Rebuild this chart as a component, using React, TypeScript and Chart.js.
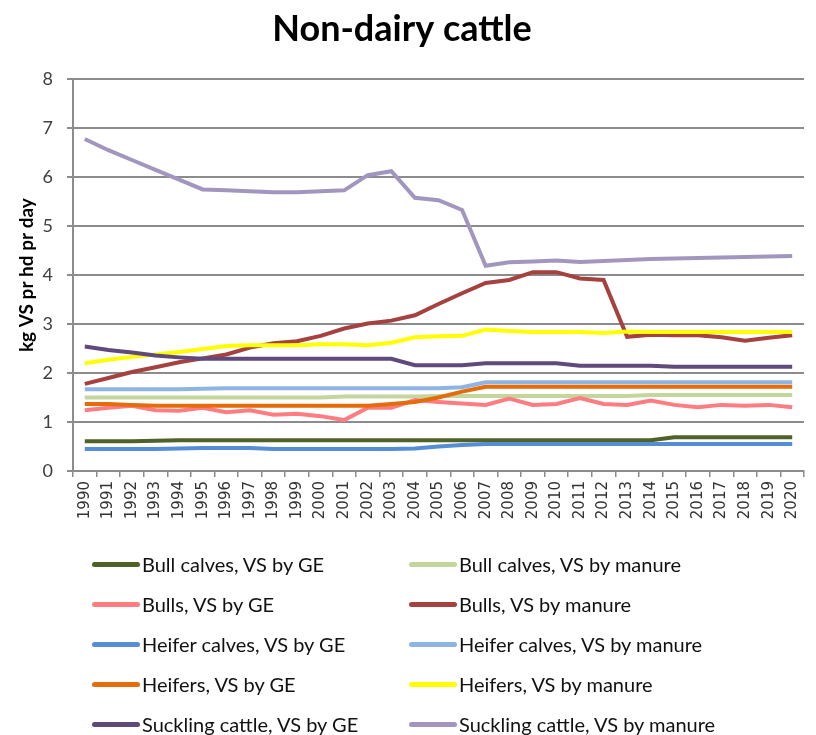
import React, { useEffect, useRef } from "react";
import { Chart, registerables } from "chart.js";

Chart.register(...registerables);

const years = [
  "1990","1991","1992","1993","1994","1995","1996","1997","1998","1999",
  "2000","2001","2002","2003","2004","2005","2006","2007","2008","2009",
  "2010","2011","2012","2013","2014","2015","2016","2017","2018","2019","2020",
];

const bullCalvesGE = [0.61,0.61,0.61,0.62,0.63,0.63,0.63,0.63,0.63,0.63,0.63,0.63,0.63,0.63,0.63,0.63,0.63,0.63,0.63,0.63,0.63,0.63,0.63,0.63,0.63,0.69,0.69,0.69,0.69,0.69,0.69];
const bullCalvesManure = [1.5,1.5,1.5,1.5,1.5,1.5,1.5,1.5,1.5,1.5,1.5,1.52,1.52,1.52,1.52,1.53,1.53,1.53,1.53,1.53,1.53,1.53,1.53,1.53,1.55,1.55,1.55,1.55,1.55,1.55,1.55];
const bullsGE = [1.24,1.29,1.33,1.24,1.23,1.29,1.2,1.24,1.15,1.17,1.12,1.04,1.29,1.29,1.45,1.41,1.38,1.35,1.48,1.35,1.37,1.49,1.37,1.35,1.44,1.35,1.3,1.35,1.33,1.35,1.3];
const bullsManure = [1.78,1.9,2.02,2.12,2.22,2.3,2.38,2.52,2.61,2.65,2.76,2.91,3.01,3.07,3.18,3.41,3.63,3.84,3.9,4.06,4.06,3.93,3.9,2.74,2.78,2.77,2.77,2.73,2.66,2.72,2.77];
const heiferCalvesGE = [0.45,0.45,0.45,0.45,0.46,0.47,0.47,0.47,0.45,0.45,0.45,0.45,0.45,0.45,0.46,0.5,0.53,0.55,0.55,0.55,0.55,0.55,0.55,0.55,0.55,0.55,0.55,0.55,0.55,0.55,0.55];
const heiferCalvesManure = [1.67,1.67,1.67,1.67,1.67,1.68,1.69,1.69,1.69,1.69,1.69,1.69,1.69,1.69,1.69,1.69,1.71,1.81,1.81,1.81,1.81,1.81,1.81,1.81,1.81,1.81,1.81,1.81,1.81,1.81,1.81];
const heifersGE = [1.37,1.37,1.35,1.33,1.33,1.33,1.33,1.33,1.33,1.33,1.33,1.33,1.33,1.37,1.41,1.5,1.62,1.72,1.72,1.72,1.72,1.72,1.72,1.72,1.72,1.72,1.72,1.72,1.72,1.72,1.72];
const heifersManure = [2.2,2.27,2.33,2.38,2.43,2.49,2.55,2.57,2.57,2.57,2.59,2.59,2.57,2.62,2.73,2.75,2.76,2.89,2.86,2.84,2.84,2.84,2.82,2.85,2.84,2.84,2.84,2.84,2.84,2.84,2.84];
const sucklingGE = [2.54,2.47,2.42,2.36,2.32,2.29,2.29,2.29,2.29,2.29,2.29,2.29,2.29,2.29,2.16,2.16,2.16,2.2,2.2,2.2,2.2,2.15,2.15,2.15,2.15,2.13,2.13,2.13,2.13,2.13,2.13];
const sucklingManure = [6.78,6.55,6.35,6.15,5.95,5.75,5.73,5.71,5.69,5.69,5.71,5.73,6.04,6.12,5.58,5.53,5.33,4.19,4.26,4.28,4.3,4.27,4.29,4.31,4.33,4.34,4.35,4.36,4.37,4.38,4.39];

const seriesNames = [
  "Bull calves, VS by GE", "Bull calves, VS by manure",
  "Bulls, VS by GE", "Bulls, VS by manure",
  "Heifer calves, VS by GE", "Heifer calves, VS by manure",
  "Heifers, VS by GE", "Heifers, VS by manure",
  "Suckling cattle, VS by GE", "Suckling cattle, VS by manure",
];
const seriesValues = [
  bullCalvesGE, bullCalvesManure, bullsGE, bullsManure,
  heiferCalvesGE, heiferCalvesManure, heifersGE, heifersManure,
  sucklingGE, sucklingManure,
];
const seriesColors = [
  "#4F6228", "#C3D69B", "#FF7C80", "#A5413E", "#558ED5",
  "#8EB4E3", "#E46C0A", "#FFFF00", "#604A7B", "#A396BE",
];

const yTicks = [0, 1, 2, 3, 4, 5, 6, 7, 8];

export default function App() {
  const canvasRef = useRef<HTMLCanvasElement | null>(null);

  useEffect(() => {
    const canvas = canvasRef.current;
    if (!canvas) return;
    const chart = new Chart(canvas, {
      type: "line",
      data: {
        labels: years,
        datasets: seriesNames.map((name, i) => ({
          label: name,
          data: seriesValues[i],
          borderColor: seriesColors[i],
          backgroundColor: seriesColors[i],
          borderWidth: 4,
          pointRadius: 0,
          tension: 0,
          fill: false,
          order: seriesNames.length - i,
        })),
      },
      options: {
        responsive: false,
        animation: false,
        devicePixelRatio: 1,
        layout: { padding: { left: 0, right: 12, top: 0, bottom: 194 } },
        plugins: {
          legend: { display: false },
          tooltip: { enabled: false },
          title: {
            display: true,
            text: "Non-dairy cattle",
            color: "#000",
            font: { family: "Lato", size: 36, weight: "bold" },
            padding: { top: 8, bottom: 28 },
          },
        },
        scales: {
          x: {
            type: "category",
            offset: true,
            grid: {
              display: true,
              offset: true,
              drawOnChartArea: false,
              drawTicks: true,
              tickLength: 6,
              color: "#8C8C8C",
              lineWidth: 1.5,
            },
            border: { display: true, color: "#8C8C8C", width: 2 },
            ticks: {
              autoSkip: false,
              maxRotation: 90,
              minRotation: 90,
              padding: 4,
              color: "#333",
              font: { family: "DejaVu Sans", size: 15 },
            },
            afterFit: (scale: any) => { scale.height = 70; },
          },
          y: {
            min: 0,
            max: 8,
            afterBuildTicks: (scale: any) => {
              scale.ticks = yTicks.map((v) => ({ value: v }));
            },
            grid: {
              color: "#8C8C8C",
              lineWidth: 2,
              drawTicks: true,
              tickLength: 6,
            },
            border: { display: true, color: "#8C8C8C", width: 2 },
            ticks: {
              padding: 14,
              color: "#404040",
              font: { family: "Lato", size: 18 },
            },
            title: {
              display: true,
              text: "kg VS pr hd pr day",
              color: "#000",
              font: { family: "Lato", size: 19, weight: "bold" },
              padding: { top: 15, bottom: 0 },
            },
            afterFit: (scale: any) => { scale.width = 73; },
          },
        },
      },
    });
    return () => chart.destroy();
  }, []);

  const legendLeft = [92, 409];
  const legendTop = 564;
  const rowGap = 40;

  return (
    <div style={{ position: "fixed", left: 0, top: 0, width: 816, height: 735, overflow: "hidden", background: "#fff" }}>
      <canvas ref={canvasRef} width={816} height={735} style={{ display: "block", width: 816, height: 735 }} />
      {seriesNames.map((name, i) => {
        const col = i % 2;
        const row = Math.floor(i / 2);
        return (
          <div
            key={name}
            style={{
              position: "absolute",
              left: legendLeft[col],
              top: legendTop + row * rowGap - 13,
              height: 26,
              display: "flex",
              alignItems: "center",
              whiteSpace: "nowrap",
              fontFamily: "Lato",
              fontSize: 20,
              color: "#111",
            }}
          >
            <span style={{ display: "inline-block", width: 48, height: 5, borderRadius: 2.5, background: seriesColors[i], marginRight: 2 }} />
            <span>{name}</span>
          </div>
        );
      })}
    </div>
  );
}
